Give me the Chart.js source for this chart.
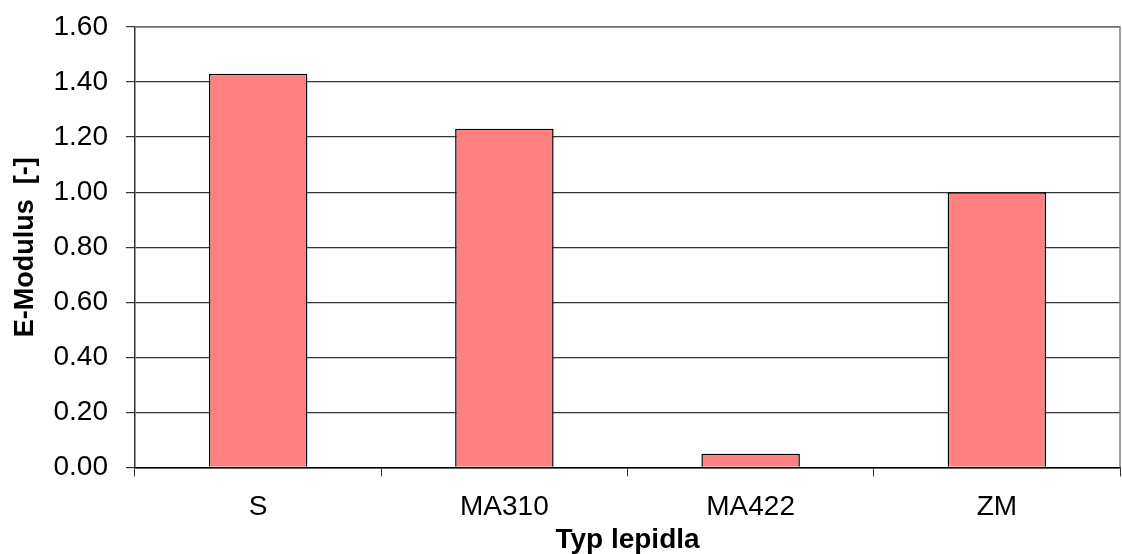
<!DOCTYPE html>
<html>
<head>
<meta charset="utf-8">
<script src="https://cdn.jsdelivr.net/npm/chart.js@4/dist/chart.umd.min.js"></script>
<style>
  body { margin: 0; background: #fff; }
  canvas { display: block; }
</style>
</head>
<body>
<canvas id="modulusChart" width="1122" height="554"></canvas>
<script>
const categories = ["S", "MA310", "MA422", "ZM"];
const modulusValues = [1.43, 1.23, 0.05, 1.00];
const yMin = 0;
const yMax = 1.6;
const yStep = 0.2;

// grey frame on the top and right side of the plot area
const framePlugin = {
  id: "frame",
  afterDraw(chart) {
    const { ctx, chartArea } = chart;
    ctx.save();
    ctx.strokeStyle = "#808080";
    ctx.lineWidth = 1.5;
    ctx.beginPath();
    ctx.moveTo(chartArea.left, chartArea.top);
    ctx.lineTo(chartArea.right, chartArea.top);
    ctx.lineTo(chartArea.right, chartArea.bottom);
    ctx.stroke();
    ctx.restore();
  }
};

const ctx = document.getElementById("modulusChart").getContext("2d");

new Chart(ctx, {
  type: "bar",
  data: {
    labels: categories,
    datasets: [{
      data: modulusValues,
      backgroundColor: "#FF8080",
      borderColor: "#000000",
      borderWidth: 1.5,
      barPercentage: 0.4,
      categoryPercentage: 1.0
    }]
  },
  options: {
    responsive: false,
    animation: false,
    devicePixelRatio: 1,
    layout: { padding: { top: 19, right: 2, left: 0, bottom: 0 } },
    plugins: {
      legend: { display: false },
      tooltip: { enabled: false }
    },
    scales: {
      x: {
        offset: true,
        grid: { offset: true, drawOnChartArea: false, tickLength: 9, color: "#333333" },
        border: { display: true, color: "#000000", width: 1.5 },
        ticks: {
          color: "#000000",
          padding: 14,
          font: { family: "'Liberation Sans', Arial, sans-serif", size: 28 }
        },
        title: {
          display: true,
          text: "Typ lepidla",
          color: "#000000",
          padding: { top: -12, bottom: 0 },
          font: { family: "'Liberation Sans', Arial, sans-serif", size: 28, weight: "bold", lineHeight: 1 }
        }
      },
      y: {
        min: yMin,
        max: yMax,
        ticks: {
          stepSize: yStep,
          color: "#000000",
          padding: 18,
          font: { family: "'Liberation Sans', Arial, sans-serif", size: 28, lineHeight: 0.64 },
          callback: v => Number(v).toFixed(2)
        },
        grid: { color: "#333333", lineWidth: 1.2, tickLength: 9 },
        border: { display: true, color: "#333333", width: 1.5 },
        title: {
          display: true,
          text: "E-Modulus  [-]",
          color: "#000000",
          padding: { top: 12.5, bottom: -4 },
          font: { family: "'Liberation Sans', Arial, sans-serif", size: 27, weight: "bold", lineHeight: 1 }
        }
      }
    }
  },
  plugins: [framePlugin]
});
</script>
</body>
</html>
